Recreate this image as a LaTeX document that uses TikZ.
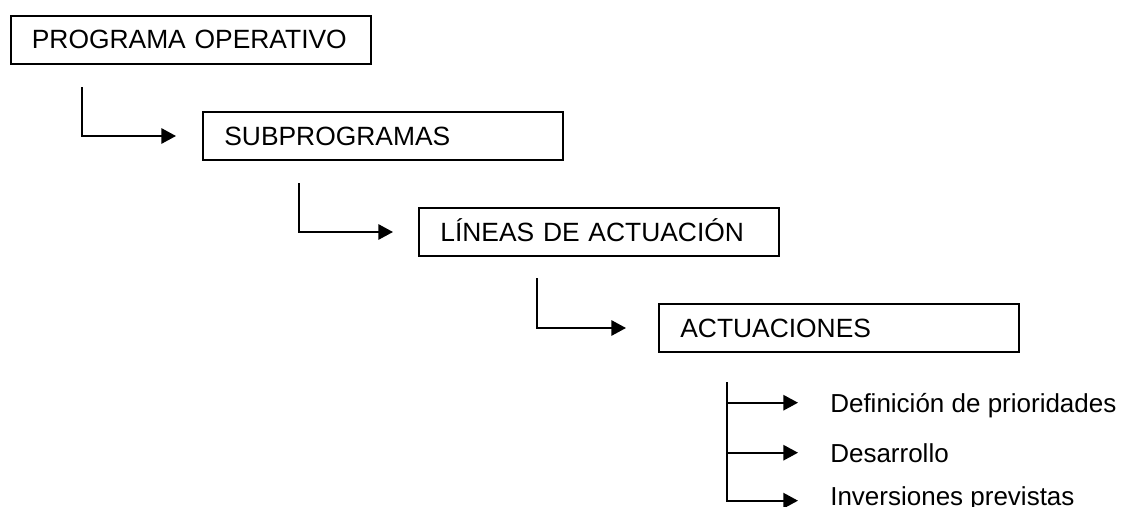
\documentclass[tikz,border=0pt]{standalone}
\usepackage{fontspec}
\setmainfont{Liberation Sans}
\usetikzlibrary{arrows.meta}

\begin{document}
\begin{tikzpicture}[x=0.75pt,y=-0.75pt,
  caja/.style={draw,line width=1.5pt,minimum width=270pt,minimum height=36pt,
    text width=238pt,inner xsep=16pt,inner ysep=0pt,align=left,
    text height=14.2pt,text depth=0pt,font=\fontsize{19.8}{23}\selectfont},
  punto/.style={anchor=west,inner sep=0pt,text height=14pt,text depth=0pt,
    font=\fontsize{19.5}{23}\selectfont},
  flecha/.style={line width=1.5pt,-{Triangle[length=11pt,width=11.5pt]}}]

\useasboundingbox (0,0) rectangle (1125,507);

\node[caja] (prog) at (190.5,39.5) {PROGRAMA OPERATIVO};
\node[caja] (sub) at (383,136) {SUBPROGRAMAS};
\node[caja] (lin) at (599,232) {LÍNEAS DE ACTUACIÓN};
\node[caja] (act) at (839,328) {ACTUACIONES};

\coordinate (c1) at (82,87);
\coordinate (c2) at (299,183);
\coordinate (c3) at (537,278);
\coordinate (c4) at (727,382);

\draw[flecha,shorten >=19.5pt] (c1) |- (sub);
\draw[flecha,shorten >=18.75pt] (c2) |- (lin);
\draw[flecha,shorten >=24pt] (c3) |- (act);

\node[punto] (def) at (830,402.7) {Definición de prioridades};
\node[punto] (des) at (830,452.7) {Desarrollo};
\node[punto] (inv) at (830,496) {Inversiones previstas};

\draw[flecha,shorten >=24pt] (c4) |- ([yshift=-3.5pt]inv.west);
\draw[flecha,shorten >=24pt] (c4 |- def.west) -- (def.west);
\draw[flecha,shorten >=24pt] (c4 |- des.west) -- (des.west);
\end{tikzpicture}
\end{document}
